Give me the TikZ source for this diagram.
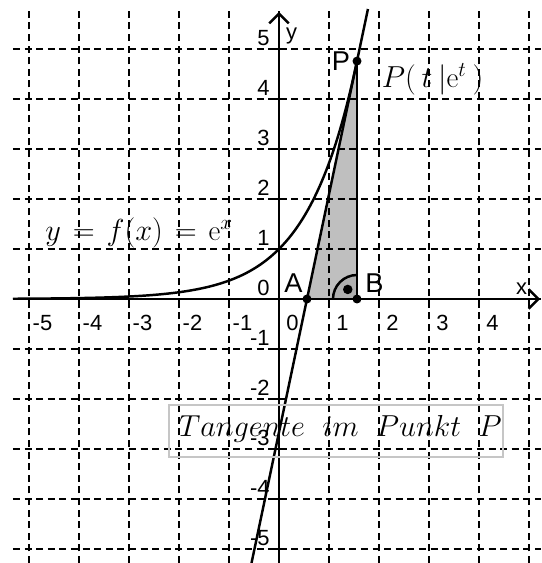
\documentclass[tikz,border=0pt]{standalone}
\usepackage{fontspec}
\newfontfamily\labfont{Liberation Sans}
\usetikzlibrary{arrows.meta}
\begin{document}
\begin{tikzpicture}[
  gridline/.style={black, line width=0.7pt, dash pattern=on 4pt off 2.6pt},
  axisline/.style={black, line width=1.35pt},
  curveline/.style={black, line width=1.4pt},
  ticklab/.style={font=\labfont\fontsize{12.5}{14}\selectfont, inner sep=0},
  ptlab/.style={font=\labfont\fontsize{15.5}{17}\selectfont, inner sep=0},
  ptdot/.style={circle, fill=black, inner sep=0, minimum size=0.18cm},
  mathlab/.style={inner sep=0, anchor=base west},
  barb/.style={-{Straight Barb[length=5.5pt,width=11pt]}},
]
\useasboundingbox (-5.58,-5.28) rectangle (5.24,5.98);
\coordinate (A) at (0.56,0);
\coordinate (B) at (1.56,0);
\coordinate (P) at (1.56,4.758);
% shaded triangle and right-angle sector
\fill[gray!50] (A) -- (B) -- (P) -- cycle;
\fill[gray!62] (B) -- ([xshift=-0.48cm]B) arc[start angle=180,end angle=90,radius=0.48] -- cycle;
% grid
\foreach \k in {-5,...,5} {
  \draw[gridline] (\k,-5.28) -- (\k,5.8);
  \draw[gridline] (-5.32,\k) -- (5.24,\k);
}
% axes
\coordinate (xs) at (-5.32,0);
\coordinate (xe) at (5.22,0);
\coordinate (ys) at (0,-5.28);
\coordinate (ye) at (0,5.74);
\draw[axisline, barb] (xs) -- (xe);
\draw[axisline, barb] (ys) -- (ye);
\foreach \k in {-5,...,5} {
  \draw[axisline] (\k,0) -- (\k,-0.1);
  \draw[axisline] (0,\k) -- (-0.1,\k);
}
% tick labels
\foreach \k in {-5,...,4}
  \node[ticklab] (xl\k) at (\k+0.27,-0.48) {\k};
\foreach \k in {-5,...,5}
  \node[ticklab, anchor=east] (yl\k) at (-0.18,\k+0.22) {\k};
\node[ticklab] (xlab) at (4.85,0.21) {x};
\node[ticklab] (ylab) at (0.25,5.26) {y};
% curve
\draw[curveline] plot[domain=-5.32:1.56, samples=120, smooth] (\x,{exp(\x)});
% tangent
\coordinate (T1) at (-0.5497,-5.28);
\coordinate (T2) at (1.779,5.8);
\draw[curveline] (T1) -- (T2);
% vertical PB
\draw[curveline] (P) -- (B);
% right angle mark
\draw[curveline] ([xshift=-0.48cm]B) arc[start angle=180,end angle=90,radius=0.48];
\node[ptdot, minimum size=0.19cm] (ra) at ([shift={(134:0.266)}]B) {};
% points
\node[ptdot] (pA) at (A) {};
\node[ptdot] (pB) at (B) {};
\node[ptdot] (pP) at (P) {};
\node[ptlab] (lA) at (0.29,0.31) {A};
\node[ptlab] (lB) at (1.91,0.31) {B};
\node[ptlab] (lP) at (1.24,4.76) {P};
% math labels
\node[mathlab, font=\fontsize{16.5}{18}\selectfont] (lPt) at (2.05,4.22) {$P(\hspace{0.2em}t\hspace{0.2em}|\mathrm{e}^{t}\hspace{0.2em})$};
\node[mathlab, font=\fontsize{16.5}{18}\selectfont] (lf) at (-4.68,1.17) {$y\hspace{0.12em}=\hspace{0.12em}f(x)\hspace{0.12em}=\hspace{0.12em}\mathrm{e}^{x}$};
\node[draw=gray!45, line width=0.8pt, minimum width=6.68cm, minimum height=1.04cm, inner sep=0] (box) at (1.14,-2.64) {};
\node[mathlab, font=\fontsize{18}{20}\selectfont] (tg) at (-2.01,-2.75) {$Tangente\hspace{0.55em}im\hspace{0.55em}Punkt\hspace{0.55em}P$};
\end{tikzpicture}
\end{document}
